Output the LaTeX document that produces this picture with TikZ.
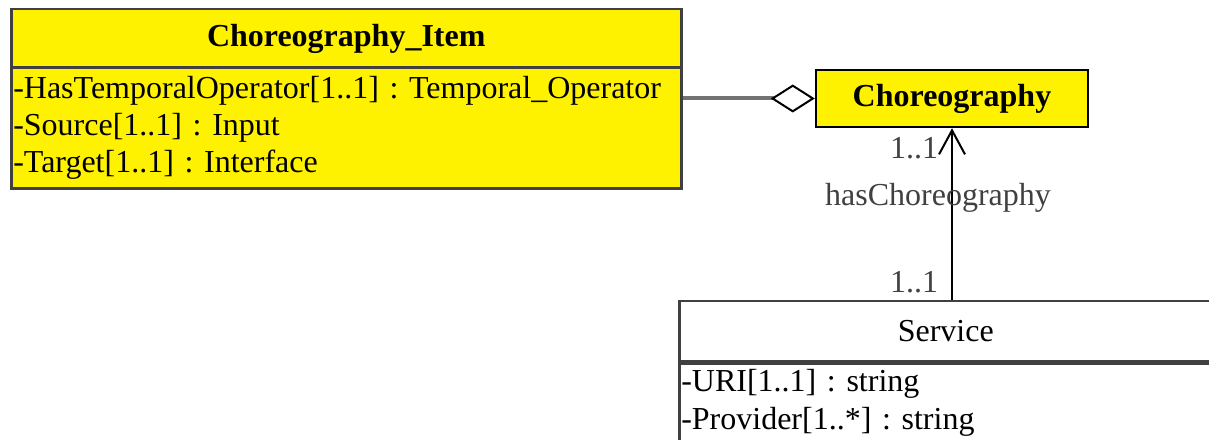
\documentclass[tikz,border=0pt]{standalone}
\usepackage{fontspec}
\setmainfont{Liberation Serif}
\usetikzlibrary{arrows.meta,positioning,calc}
\frenchspacing

\begin{document}
\begin{tikzpicture}[x=1pt, y=1pt,
    classhead/.style={draw=black!75, line width=2.5pt, fill=yellow, inner sep=0pt,
      font=\fontsize{32}{36}\selectfont\bfseries},
    classbody/.style={draw=black!75, line width=2.5pt, fill=yellow, inner xsep=2pt, inner ysep=4pt,
      align=left, font=\fontsize{32}{37}\selectfont},
    multlabel/.style={text=black!75, inner sep=0pt, font=\fontsize{32}{36}\selectfont},
    aggr/.style={draw=black!55, line width=4pt,
      {Diamond[open, length=44pt, width=28pt, line width=2pt, color=black]}-},
    assoc/.style={draw=black, line width=2.5pt,
      -{Straight Barb[length=24pt, width=26pt, line width=2pt]}}]
        \useasboundingbox (0, 0) rectangle (1209, 439);
        \clip (0, 0) rectangle (1209, 439);

        % Choreography_Item class
        \node [classhead, minimum width=670, minimum height=59, anchor=north west] (itemhead) at (10, 431) {Choreography\_Item};
        \node [classbody, text width=666, minimum height=121, anchor=north west] (itembody) at ([yshift=3pt]itemhead.south west)
          {-HasTemporalOperator[1..1] : Temporal\_Operator\\-Source[1..1] : Input\\-Target[1..1] : Interface};

        % Choreography class
        \node [classhead, draw=black, minimum width=272, minimum height=57] (chor) at (952, 340.5) {Choreography};

        % Service class
        \node [classhead, fill=white, font=\fontsize{32}{36}\selectfont, minimum width=533, minimum height=60, anchor=north west] (svchead) at (678, 139) {Service};
        \node [classbody, fill=white, text width=529, inner ysep=6pt, font=\fontsize{32}{38}\selectfont, text depth=70pt, anchor=north west] (svcbody) at (svchead.south west)
          {-URI[1..1] : string\\-Provider[1..*] : string};

        % connectors
        \draw [aggr] (chor.west) -- (chor.west -| itembody.east);
        \draw [assoc] (chor.south |- svchead.north) -- (chor.south);

        \node [multlabel] at (914, 291) {1..1};
        \node [multlabel] at (938, 241) {hasChoreography};
        \node [multlabel] at (914, 157) {1..1};
      \end{tikzpicture}
\end{document}
